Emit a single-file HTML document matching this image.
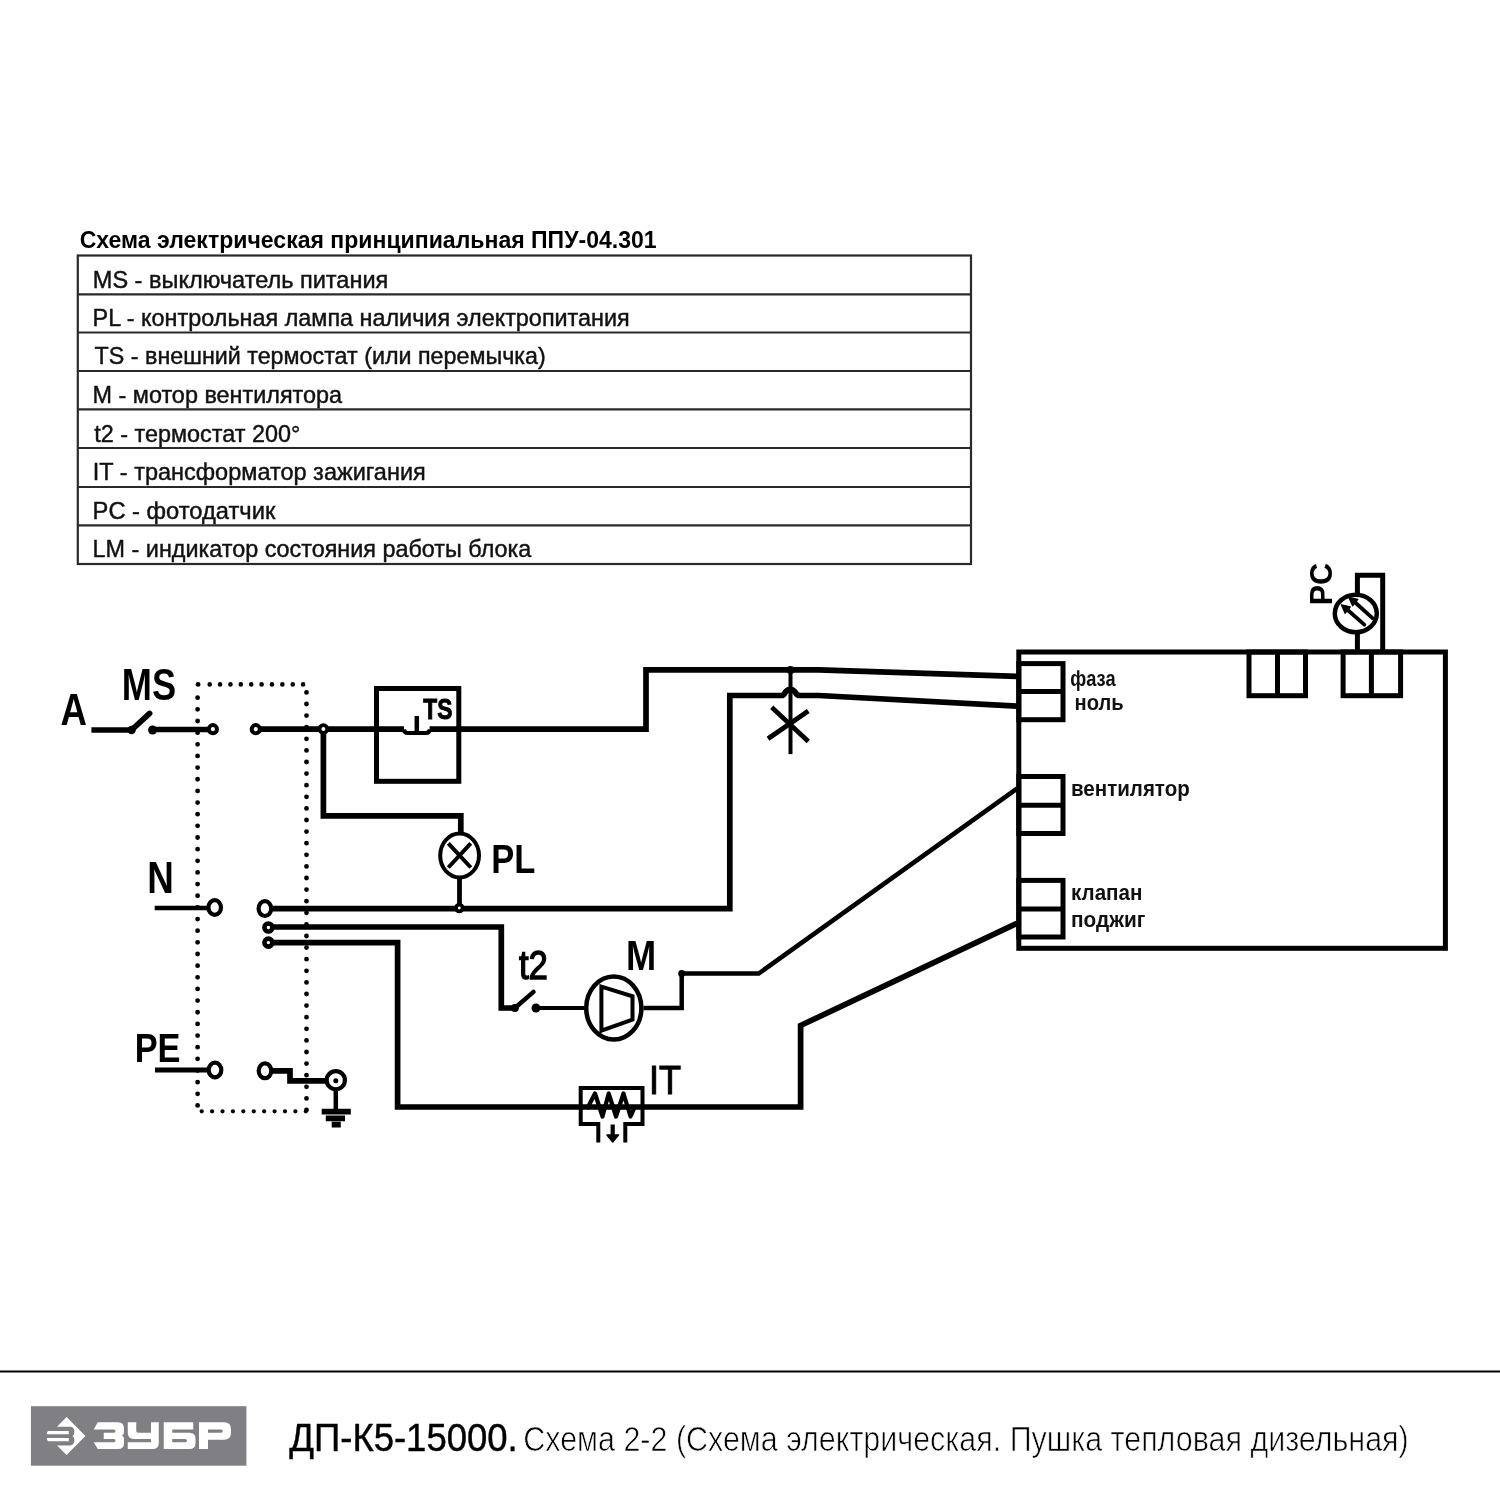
<!DOCTYPE html><html><head><meta charset="utf-8"><style>html,body{margin:0;padding:0;background:#fff;width:1500px;height:1500px;overflow:hidden}svg{display:block;will-change:transform}</style></head><body>
<svg width="1500" height="1500" viewBox="0 0 1500 1500">
<rect x="0" y="0" width="1500" height="1500" fill="#fff"/>
<!-- table -->
<g stroke="#2a2a2a" stroke-width="2.2" fill="none">
<rect x="77.8" y="255.5" width="893.2" height="308.5"/>
<line x1="77.8" y1="294.3" x2="971" y2="294.3"/>
<line x1="77.8" y1="332.5" x2="971" y2="332.5"/>
<line x1="77.8" y1="371.0" x2="971" y2="371.0"/>
<line x1="77.8" y1="409.4" x2="971" y2="409.4"/>
<line x1="77.8" y1="448.0" x2="971" y2="448.0"/>
<line x1="77.8" y1="487.0" x2="971" y2="487.0"/>
<line x1="77.8" y1="525.4" x2="971" y2="525.4"/>
</g>
<!-- dotted rect -->
<g stroke="#000" stroke-width="4.8" stroke-linecap="round" fill="none">
<path d="M197.6 697.7 V1111.3" stroke-dasharray="0 11.65"/>
<path d="M306.5 692.4 V1111.3" stroke-dasharray="0 11.6"/>
<path d="M209.7 684.4 H303.5" stroke-dasharray="0 10.38" stroke-width="4.6"/>
<path d="M201.7 1111.3 H306.5" stroke-dasharray="0 10.41" stroke-width="4.3"/>
<path d="M198 684.4 h0.1"/>
</g>
<!-- wires -->
<g stroke="#000" stroke-width="5.7" fill="none" stroke-linejoin="miter" stroke-linecap="butt">
<path d="M91.4 730 H131.6"/>
<path d="M131.6 730 L149.6 713.4" stroke-linecap="round"/>
<path d="M152.6 729.5 H208"/>
<path d="M260 729.2 H404 M429.6 729.2 H646 V669.8 H818.7 L1016.9 676.3"/>
<path d="M323.4 729 V815.8 H460.8 V832"/>
<path d="M459.5 879 V908.7" stroke-width="4.8"/>
<path d="M154.7 908 H208" stroke-width="4.5"/>
<path d="M271 908.7 H729.8 V695.5 H781.5 Q783.5 695.5 785.5 692 Q787.5 689.3 790.3 689.3 Q793 689.3 795 692 Q797 695.5 799.7 695.5 H818.7 L1016.9 706.1"/>
<path d="M272 927 H501.3 V1008 H514.9"/>
<path d="M514.9 1008 L533.5 991.9" stroke-linecap="round" stroke-width="4.5"/>
<path d="M536 1008 H584" stroke-width="4"/>
<path d="M643.5 1008 H681.7 V973.5 H758.7 L1016.9 788.7" stroke-width="4.5"/>
<path d="M272 942.7 H397.6 V1107 H800.6 V1025.5 L1016.9 923.3"/>
<path d="M155 1070 H208" stroke-width="5"/>
<path d="M272 1070.8 H290 V1080.8 H326"/>
<path d="M335.8 1090 V1112" stroke-width="4.5"/>
<path d="M321.7 1111.7 H350.8 M325.8 1118.3 H345 M331.7 1124.7 H340.8"/>
<path d="M790.5 669.8 V754.1" stroke-width="4"/>
<path d="M773.5 709 L806.5 739.8 M770 737.3 L806.3 712.3" stroke-width="4.8" stroke-linecap="square"/>
</g>
<!-- dots -->
<g fill="#000">
<circle cx="131.6" cy="730" r="4.2"/>
<circle cx="152.6" cy="730" r="4.5"/>
<circle cx="790.5" cy="670" r="4"/>
<circle cx="514.9" cy="1008" r="4"/>
<circle cx="536" cy="1008" r="4.5"/>
<circle cx="681.7" cy="973.5" r="3.5"/>
<circle cx="335.8" cy="1080.8" r="2.5"/>
</g>
<!-- terminal rings -->
<g stroke="#000" fill="#fff">
<circle cx="212.9" cy="729.2" r="4.1" stroke-width="4"/>
<circle cx="255.8" cy="729.2" r="4.1" stroke-width="4"/>
<circle cx="323.4" cy="729" r="3.9" stroke-width="3.8"/>
<circle cx="459.3" cy="908" r="3.3" stroke-width="3.8"/>
<ellipse cx="214.7" cy="907.5" rx="6.3" ry="7.4" stroke-width="4.2"/>
<ellipse cx="264.9" cy="908.6" rx="6.3" ry="7.4" stroke-width="4.2"/>
<circle cx="268.4" cy="927.5" r="4" stroke-width="4.6"/>
<circle cx="268.4" cy="942.6" r="4" stroke-width="4.6"/>
<ellipse cx="215" cy="1070" rx="6.3" ry="7.4" stroke-width="4.2"/>
<ellipse cx="265" cy="1070.8" rx="6.3" ry="7.4" stroke-width="4.2"/>
<circle cx="335.8" cy="1080.2" r="9.1" stroke-width="4.2" fill="none"/>
</g>
<!-- TS box -->
<g stroke="#000" fill="none">
<rect x="376.5" y="688.5" width="82.3" height="92.8" stroke-width="5"/>
<path d="M404 729.2 Q404 733 408 733 H426 Q429.6 733 429.6 729.2" stroke-width="4"/>
<path d="M416.8 716 V731" stroke-width="4.5"/>
</g>
<!-- PL lamp -->
<g stroke="#000" fill="none">
<ellipse cx="459.6" cy="855.5" rx="19.4" ry="21.9" stroke-width="4"/>
<path d="M448.3 843.3 L470.8 867.5 M470.8 843.3 L448.3 867.5" stroke-width="4"/>
</g>
<!-- motor -->
<g stroke="#000" fill="none">
<ellipse cx="613.8" cy="1008" rx="27.6" ry="31.6" stroke-width="4.5"/>
<path d="M601.4 986.7 L632.5 996.3 V1019.7 L601.4 1030.7 Z" stroke-width="4" stroke-linejoin="miter"/>
</g>
<!-- IT -->
<g stroke="#000" fill="none" stroke-width="4">
<path d="M598.3 1142.5 V1124 H580.7 V1087.9 H642.5 V1124 H625.3 V1142.5" stroke-linejoin="miter"/>
<path d="M587 1109 L595 1093.5 L602.5 1116.5 L608.7 1093.5 L616 1116.5 L623.5 1093.5 L630.5 1116.5 L635 1106.5" stroke-width="4.2" stroke-linejoin="round"/>
<path d="M612.7 1124.5 V1138" stroke-width="4.2"/>
</g>
<path d="M607 1135 L618.5 1135 L612.7 1142 Z" fill="#000" stroke="#000" stroke-width="1.5" stroke-linejoin="round"/>
<!-- controller box -->
<g stroke="#000" fill="none" stroke-width="5">
<rect x="1018.8" y="652" width="426.6" height="296.3"/>
<rect x="1018.8" y="663.6" width="44.2" height="56.1"/>
<line x1="1018.8" y1="691.6" x2="1063" y2="691.6"/>
<rect x="1018.8" y="776.5" width="44.2" height="57"/>
<line x1="1018.8" y1="805.3" x2="1063" y2="805.3"/>
<rect x="1018.8" y="880.4" width="44.2" height="56.6"/>
<line x1="1018.8" y1="909" x2="1063" y2="909"/>
<rect x="1249" y="652" width="56.5" height="43.7"/>
<line x1="1277.5" y1="652" x2="1277.5" y2="695.7"/>
<rect x="1343.1" y="652" width="57.5" height="43.7"/>
<line x1="1371.4" y1="652" x2="1371.4" y2="695.7"/>
<path d="M1357.4 652 V634 M1357.4 593 V575.3 H1382.7 V652"/>
<ellipse cx="1355.8" cy="613.5" rx="21" ry="18.8" stroke-width="4.5"/>
<path d="M1347.7 610 L1364.3 624.7 M1355.2 602.5 L1372.8 618.3" stroke-width="3.8" stroke-linecap="round"/>
</g>
<path d="M1341.5 605 L1350.25 606.9 L1345.2 613.1 Z M1349 597.5 L1357.75 599.4 L1352.7 605.6 Z" fill="#000" stroke="#000" stroke-width="1.5" stroke-linejoin="round"/>
<!-- footer -->
<line x1="0" y1="1371.6" x2="1500" y2="1371.6" stroke="#000" stroke-width="2"/>
<rect x="30.9" y="1406.2" width="215.5" height="59.5" fill="#807f84"/>
<g fill="#fff">
<path d="M66.6 1417 L85.4 1436 L66.6 1455 L57 1445.4 L70 1445.4 Q74.4 1445.4 74.4 1440 Q74.4 1437 72.5 1436 Q74.4 1435 74.4 1432 Q74.4 1426.8 70 1426.8 L57 1426.8 Z"/>
<path d="M48 1431 H68.8 V1434.2 H46.8 Q46.8 1432 48 1431 Z M46.8 1438 H68.8 V1441.2 H48 Q46.8 1440 46.8 1438 Z"/>
<path d="M97.75 1422.25 H118 Q124 1422.25 124 1428.5 V1432 Q124 1435 122 1435.5 Q124 1436 124 1439 V1443 Q124 1449 118 1449 H97.75 L93.75 1442.25 H114 Q115.5 1442.25 115.5 1440.6 Q115.5 1439 114 1439 H103.75 V1432.75 H114 Q115.5 1432.75 115.5 1431.1 Q115.5 1429.5 114 1429.5 H93.75 Z"/>
<path d="M127.75 1422.25 H136.25 V1431 Q136.25 1432.75 138 1432.75 H151 V1422.25 H158.75 V1443 Q158.75 1449 152.5 1449 H127.75 V1442.25 H151 V1439 H134 Q127.75 1439 127.75 1432.75 Z"/>
<path d="M163.75 1422.25 H193.25 V1429.5 H172.25 V1432.75 H189.5 Q195.5 1432.75 195.5 1438.75 V1443 Q195.5 1449 189.5 1449 H163.75 Z M172.25 1439 V1442.25 H185.4 Q187 1442.25 187 1440.6 Q187 1439 185.4 1439 Z" fill-rule="evenodd"/>
<path d="M199 1422.25 H224 Q231 1422.25 231 1429.25 V1432.75 Q231 1439.75 224 1439.75 H208 V1449 H199 Z M208 1429.5 V1432.75 H221.1 Q222.75 1432.75 222.75 1431.1 Q222.75 1429.5 221.1 1429.5 Z" fill-rule="evenodd"/>
</g>

<text x="79.70" y="247.50" font-family="Liberation Sans" font-weight="700" font-size="24.00" fill="#000" textLength="577.01" lengthAdjust="spacingAndGlyphs">Схема электрическая принципиальная ППУ-04.301</text>
<text x="92.80" y="287.70" font-family="Liberation Sans" font-weight="400" font-size="24.30" fill="#111" stroke="#111" stroke-width="0.45" textLength="295.55" lengthAdjust="spacingAndGlyphs">MS - выключатель питания</text>
<text x="92.60" y="326.00" font-family="Liberation Sans" font-weight="400" font-size="24.30" fill="#111" stroke="#111" stroke-width="0.45" textLength="537.12" lengthAdjust="spacingAndGlyphs">PL - контрольная лампа наличия электропитания</text>
<text x="94.60" y="364.30" font-family="Liberation Sans" font-weight="400" font-size="24.30" fill="#111" stroke="#111" stroke-width="0.45" textLength="451.12" lengthAdjust="spacingAndGlyphs">TS - внешний термостат (или перемычка)</text>
<text x="92.60" y="402.80" font-family="Liberation Sans" font-weight="400" font-size="24.30" fill="#111" stroke="#111" stroke-width="0.45" textLength="249.42" lengthAdjust="spacingAndGlyphs">M - мотор вентилятора</text>
<text x="94.20" y="442.00" font-family="Liberation Sans" font-weight="400" font-size="24.30" fill="#111" stroke="#111" stroke-width="0.45" textLength="206.14" lengthAdjust="spacingAndGlyphs">t2 - термостат 200°</text>
<text x="92.80" y="480.40" font-family="Liberation Sans" font-weight="400" font-size="24.30" fill="#111" stroke="#111" stroke-width="0.45" textLength="332.95" lengthAdjust="spacingAndGlyphs">IT - трансформатор зажигания</text>
<text x="92.60" y="518.80" font-family="Liberation Sans" font-weight="400" font-size="24.30" fill="#111" stroke="#111" stroke-width="0.45" textLength="182.74" lengthAdjust="spacingAndGlyphs">PC - фотодатчик</text>
<text x="92.60" y="557.30" font-family="Liberation Sans" font-weight="400" font-size="24.30" fill="#111" stroke="#111" stroke-width="0.45" textLength="438.72" lengthAdjust="spacingAndGlyphs">LM - индикатор состояния работы блока</text>
<text x="60.40" y="725.40" font-family="Liberation Sans" font-weight="700" font-size="44.50" fill="#000" textLength="26.45" lengthAdjust="spacingAndGlyphs">A</text>
<text x="121.80" y="699.60" font-family="Liberation Sans" font-weight="700" font-size="43.60" fill="#000" textLength="54.27" lengthAdjust="spacingAndGlyphs">MS</text>
<text x="147.30" y="892.70" font-family="Liberation Sans" font-weight="700" font-size="43.60" fill="#000" textLength="26.55" lengthAdjust="spacingAndGlyphs">N</text>
<text x="134.70" y="1061.70" font-family="Liberation Sans" font-weight="700" font-size="41.30" fill="#000" textLength="45.86" lengthAdjust="spacingAndGlyphs">PE</text>
<text x="423.30" y="719.30" font-family="Liberation Sans" font-weight="700" font-size="29.50" fill="#000" stroke="#000" stroke-width="1.0" textLength="29.07" lengthAdjust="spacingAndGlyphs">TS</text>
<text x="491.30" y="873.30" font-family="Liberation Sans" font-weight="700" font-size="41.10" fill="#000" textLength="44.15" lengthAdjust="spacingAndGlyphs">PL</text>
<text x="518.90" y="979.40" font-family="Liberation Sans" font-weight="400" font-size="40.50" fill="#000" stroke="#000" stroke-width="1.4" textLength="29.00" lengthAdjust="spacingAndGlyphs">t2</text>
<text x="626.10" y="969.90" font-family="Liberation Sans" font-weight="700" font-size="42.70" fill="#000" textLength="30.19" lengthAdjust="spacingAndGlyphs">M</text>
<text x="648.90" y="1094.30" font-family="Liberation Sans" font-weight="400" font-size="40.50" fill="#000" stroke="#000" stroke-width="1.1" textLength="32.06" lengthAdjust="spacingAndGlyphs">IT</text>
<text transform="translate(1332 602.3) rotate(-90)" x="-3.00" y="0.00" font-family="Liberation Sans" font-weight="700" font-size="32.00" fill="#000" textLength="42.32" lengthAdjust="spacingAndGlyphs">PC</text>
<text x="1070.30" y="685.90" font-family="Liberation Sans" font-weight="700" font-size="22.50" fill="#111" textLength="45.29" lengthAdjust="spacingAndGlyphs">фаза</text>
<text x="1074.60" y="710.00" font-family="Liberation Sans" font-weight="700" font-size="22.50" fill="#111" textLength="49.09" lengthAdjust="spacingAndGlyphs">ноль</text>
<text x="1071.00" y="796.00" font-family="Liberation Sans" font-weight="700" font-size="21.40" fill="#111" textLength="118.75" lengthAdjust="spacingAndGlyphs">вентилятор</text>
<text x="1071.00" y="900.00" font-family="Liberation Sans" font-weight="700" font-size="21.40" fill="#111" textLength="71.40" lengthAdjust="spacingAndGlyphs">клапан</text>
<text x="1071.00" y="927.30" font-family="Liberation Sans" font-weight="700" font-size="21.40" fill="#111" textLength="74.35" lengthAdjust="spacingAndGlyphs">поджиг</text>
<text x="289.30" y="1451.00" font-family="Liberation Sans" font-weight="400" font-size="39.20" fill="#000" stroke="#000" stroke-width="0.45" textLength="228.47" lengthAdjust="spacingAndGlyphs">ДП-К5-15000.</text>
<text x="523.30" y="1451.20" font-family="Liberation Sans" font-weight="400" font-size="34.50" fill="#000" stroke="#fff" stroke-width="0.7" textLength="885.42" lengthAdjust="spacingAndGlyphs">Схема 2-2 (Схема электрическая. Пушка тепловая дизельная)</text>
</svg></body></html>
